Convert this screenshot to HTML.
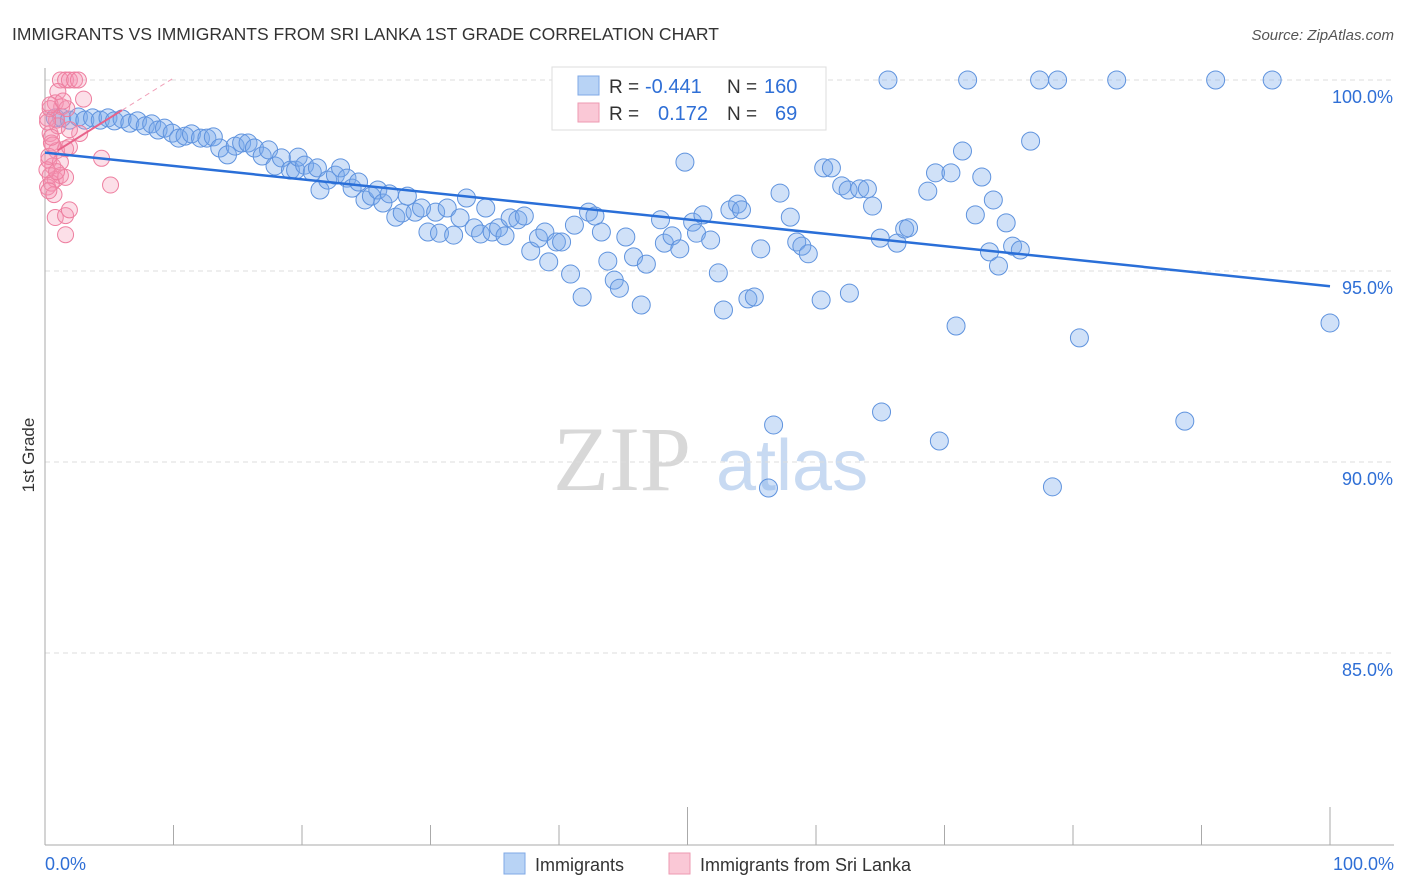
<!DOCTYPE html>
<html><head><meta charset="utf-8"><style>
body{margin:0;background:#fff;font-family:"Liberation Sans",sans-serif}
svg{display:block}
</style></head><body>
<svg id="chart" width="1406" height="892" xmlns="http://www.w3.org/2000/svg">
<text x="12" y="40" font-size="17.5" fill="#333">IMMIGRANTS VS IMMIGRANTS FROM SRI LANKA 1ST GRADE CORRELATION CHART</text>
<text x="1394" y="40" font-size="15" fill="#555" font-style="italic" text-anchor="end">Source: ZipAtlas.com</text>
<text x="34" y="455" font-size="17" fill="#333" text-anchor="middle" transform="rotate(-90 34 455)">1st Grade</text>
<g>
<text x="553" y="490" font-size="92" fill="#d8d8d8" font-family="Liberation Serif,serif">ZIP</text>
<text x="716" y="490" font-size="72" fill="#c8daf2">atlas</text>
</g>
<g id="grid"></g>
<g id="axes"></g>
<g id="pts"></g>
<g id="trends"></g>
<g>
<rect x="552" y="67" width="274" height="63" fill="#fff" stroke="#ddd"/>
<rect x="578" y="76" width="21" height="19" fill="#b8d3f5" stroke="#7fa8e6"/>
<rect x="578" y="103" width="21" height="19" fill="#fac8d6" stroke="#ee9ab2"/>
<text x="609" y="93" font-size="19" fill="#333">R = </text><text x="645" y="93" font-size="20" fill="#2f6fd6">-0.441</text>
<text x="727" y="93" font-size="19" fill="#333">N = </text><text x="764" y="93" font-size="20" fill="#2f6fd6">160</text>
<text x="609" y="120" font-size="19" fill="#333">R = </text><text x="658" y="120" font-size="20" fill="#2f6fd6">0.172</text>
<text x="727" y="120" font-size="19" fill="#333">N = </text><text x="775" y="120" font-size="20" fill="#2f6fd6">69</text>
</g>
<g>
<rect x="504" y="853" width="21" height="21" fill="#b8d3f5" stroke="#7fa8e6"/>
<text x="535" y="871" font-size="18" fill="#333">Immigrants</text>
<rect x="669" y="853" width="21" height="21" fill="#fac8d6" stroke="#ee9ab2"/>
<text x="700" y="871" font-size="18" fill="#333">Immigrants from Sri Lanka</text>
</g>
</svg>
<script>
const yTicks=[100,95,90,85];
const yTickLabels=["100.0%","95.0%","90.0%","85.0%"];
const xTickLabels=["0.0%","100.0%"];
const blueX=[0.8,1.3,1.9,2.6,3.1,3.7,4.3,4.9,5.4,6.0,6.6,7.2,7.8,8.3,8.8,9.3,9.9,10.4,10.9,11.4,12.1,12.6,13.1,13.6,14.2,14.8,15.3,15.8,16.3,16.9,17.4,17.9,18.4,19.1,19.5,19.7,20.2,20.8,21.2,21.4,22.0,22.6,23.0,23.5,23.9,24.4,24.9,25.4,25.9,26.3,26.8,27.3,27.8,28.2,28.8,29.3,29.8,30.4,30.7,31.3,31.8,32.3,32.8,33.4,33.9,34.3,34.8,35.3,35.8,36.2,36.8,37.3,37.8,38.4,38.9,39.2,39.8,40.2,40.9,41.2,41.8,42.3,42.8,43.3,43.8,44.3,44.7,45.2,45.8,46.4,46.8,47.9,48.2,48.8,49.4,49.8,50.4,50.7,51.2,51.8,52.4,52.8,53.3,53.9,54.2,54.7,55.2,55.7,56.7,56.3,57.2,58.0,58.5,58.9,59.4,59.9,60.4,60.6,61.2,62.0,62.6,62.5,63.4,64.0,64.4,65.0,65.1,65.6,66.3,66.9,67.2,68.7,69.3,69.6,70.5,70.9,71.4,71.8,72.4,72.9,73.5,73.8,74.2,74.8,75.3,75.9,76.7,77.4,78.4,78.8,80.5,83.4,88.7,91.1,95.5,100.0];
const blueY=[99.01,99.01,98.95,99.03,98.95,99.01,98.95,99.01,98.93,98.98,98.87,98.93,98.80,98.85,98.69,98.74,98.61,98.48,98.53,98.59,98.48,98.48,98.51,98.22,98.04,98.27,98.35,98.35,98.22,98.01,98.17,97.75,97.96,97.64,97.64,97.98,97.77,97.59,97.70,97.12,97.38,97.51,97.70,97.43,97.17,97.33,96.86,96.96,97.12,96.78,97.02,96.41,96.52,96.96,96.54,96.65,96.02,96.54,95.99,96.65,95.94,96.39,96.91,96.13,95.97,96.65,96.02,96.13,95.92,96.39,96.34,96.44,95.52,95.86,96.02,95.24,95.76,95.76,94.92,96.20,94.32,96.54,96.44,96.02,95.26,94.76,94.55,95.89,95.37,94.11,95.18,96.34,95.73,95.92,95.58,97.85,96.28,95.99,96.47,95.81,94.95,93.98,96.60,96.75,96.60,94.27,94.32,95.58,90.97,89.32,97.04,96.41,95.76,95.65,95.45,99.14,94.24,97.70,97.70,97.23,94.42,97.12,97.15,97.15,96.70,95.86,91.31,100.0,95.73,96.10,96.13,97.09,97.57,90.55,97.57,93.56,98.14,100.0,96.47,97.46,95.50,96.86,95.13,96.26,95.65,95.55,98.40,100.0,89.35,100.0,93.25,100.0,91.07,100.0,100.0,93.64];
const pinkX=[1.2,1.6,1.9,2.3,2.6,1.0,3.0,0.8,1.3,1.7,0.9,0.4,0.5,0.9,1.6,1.9,0.3,0.6,0.4,0.8,1.2,1.6,0.2,0.5,4.4,5.1,0.8,1.6,1.9,1.6,0.2,0.4,1.0,2.7,0.15,1.2,0.7,0.4,1.4,1.9,0.3,0.6,0.2,0.5,0.9,0.3];
const pinkY=[100.0,100.0,100.0,100.0,100.0,99.7,99.5,99.4,99.3,99.25,98.95,98.6,98.35,98.15,98.2,98.25,97.9,97.75,97.5,97.4,97.5,97.45,97.2,97.3,97.95,97.25,96.4,96.45,96.6,95.95,99.0,99.25,98.8,98.6,97.65,97.85,97.0,99.35,99.45,98.7,98.0,98.3,98.9,98.5,97.6,97.1];
const blueTrend=[98.1,94.6];
const pinkTrend=[97.95,100.05];
const X0=45,X1=1330,YTOP=80,PXPER=38.2,YBOT=845;
const sx=v=>X0+(X1-X0)*v/100;
const sy=v=>YTOP+(100-v)*PXPER;
const NS="http://www.w3.org/2000/svg";
function mk(t,a,p){const e=document.createElementNS(NS,t);for(const k in a)e.setAttribute(k,a[k]);p.appendChild(e);return e;}
const grid=document.getElementById('grid'),axes=document.getElementById('axes'),pts=document.getElementById('pts'),tr=document.getElementById('trends');
yTicks.forEach((t,i)=>{
 const l=mk('line',{x1:X0,x2:1394,y1:sy(t),y2:sy(t),stroke:'#ddd','stroke-dasharray':'5,4'},grid);
 
 
 const tx=mk('text',{x:1393,y:sy(t)+23,'font-size':18,fill:'#2f6fd6','text-anchor':'end'},axes);
 tx.textContent=yTickLabels[i];
 
 
});
const ya=mk('line',{x1:X0,x2:X0,y1:68,y2:YBOT,stroke:'#aaa'},axes);


const xa=mk('line',{x1:X0,x2:1394,y1:YBOT,y2:YBOT,stroke:'#aaa'},axes);


for(let i=0;i<=10;i++){
 const long=(i==5||i==10);
 const t=mk('line',{x1:sx(i*10),x2:sx(i*10),y1:long?807:825,y2:YBOT,stroke:'#aaa'},axes);
 
 
}
[[0,'start',X0],[1,'end',1394]].forEach(([i,a,x])=>{
 const t=mk('text',{x:x,y:870,'font-size':18,fill:'#2f6fd6','text-anchor':a},axes);
 t.textContent=xTickLabels[i];
 
 
});
blueX.forEach((v,i)=>{
 const c=mk('circle',{cx:sx(v),cy:sy(blueY[i]),r:9,fill:'rgba(120,170,235,0.35)',stroke:'#5f93de','stroke-width':1},pts);
 
 
});
pinkX.forEach((v,i)=>{
 const c=mk('circle',{cx:sx(v),cy:sy(pinkY[i]),r:8,fill:'rgba(245,150,180,0.3)',stroke:'#ee7fa0','stroke-width':1},pts);
 
 
});
const bl=mk('line',{x1:sx(0),y1:sy(blueTrend[0]),x2:sx(100),y2:sy(blueTrend[1]),stroke:'#2a6fd8','stroke-width':2.5},tr);


const pslope=(pinkTrend[1]-pinkTrend[0])/10;
const pl=mk('line',{x1:sx(1),y1:sy(pinkTrend[0]+pslope*1),x2:sx(6),y2:sy(pinkTrend[0]+pslope*6),stroke:'#e8628a','stroke-width':2},tr);


const pd=mk('line',{x1:sx(6),y1:sy(pinkTrend[0]+pslope*6),x2:sx(10),y2:sy(pinkTrend[1]),stroke:'#f0a0b8','stroke-width':1,'stroke-dasharray':'5,4'},tr);


</script>
</body></html>
